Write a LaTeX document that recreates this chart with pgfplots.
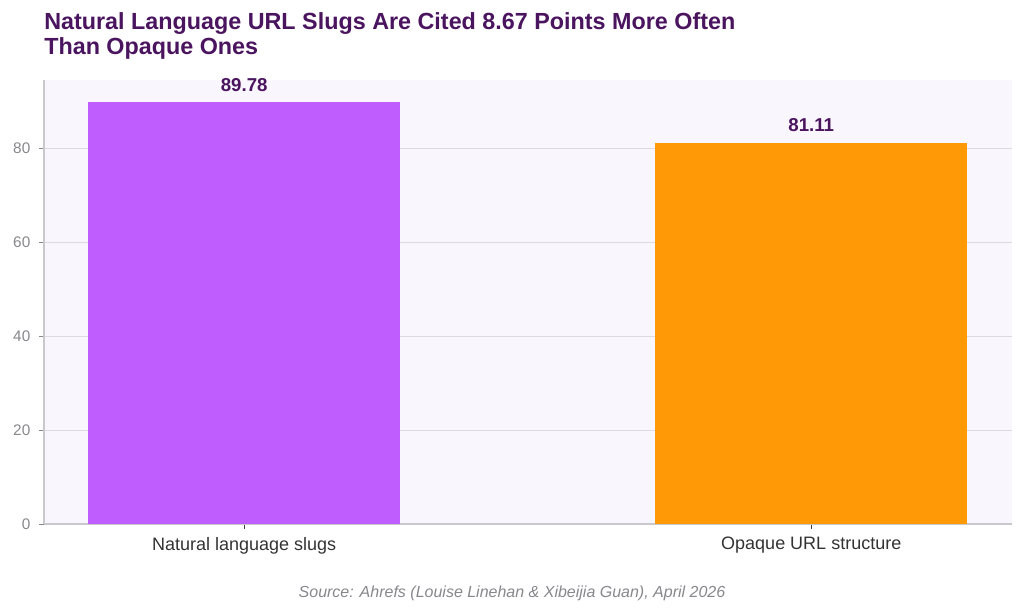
\documentclass[border=0pt]{standalone}
\usepackage{pgfplots}
\pgfplotsset{compat=1.18}
\usepackage{fontspec}
\setmainfont{Liberation Sans}
\definecolor{titlecol}{RGB}{74,20,95}
\definecolor{barA}{RGB}{192,93,255}
\definecolor{barB}{RGB}{255,153,5}
\definecolor{panel}{RGB}{249,246,253}
\definecolor{gridc}{RGB}{221,219,226}
\definecolor{spine}{RGB}{200,200,205}
\definecolor{ticktxt}{RGB}{135,135,140}
\begin{document}
\begin{tikzpicture}
% full canvas, 1024 x 614 px at 0.75pt per px
\path[use as bounding box] (0,0) rectangle (768pt,460.5pt);
\begin{axis}[
  at={(33pt,67.5pt)}, anchor=south west,
  scale only axis, width=726pt, height=333pt,
  xmin=-0.353, xmax=1.354, ymin=0, ymax=94.47,
  axis background/.style={fill=panel},
  axis x line*=bottom, axis y line*=left,
  axis line style={spine, line width=0.8pt},
  xtick={0,1}, xticklabels={Natural language slugs, Opaque URL structure},
  ytick={0,20,40,60,80},
  ymajorgrids, grid style={gridc, line width=0.7pt},
  tick align=outside, major tick length=3.75pt,
  xtick style={black!75, line width=0.6pt}, ytick style={ticktxt, line width=0.6pt},
  yticklabel style={font=\fontsize{11.5}{13}\selectfont, text=ticktxt, xshift=-3pt},
  xticklabel style={font=\fontsize{13.5}{15}\selectfont, text=black!80, yshift=-2.5pt},
  /pgf/number format/assume math mode=true,
  ybar, bar width=234pt, bar shift=0pt,
  nodes near coords,
  nodes near coords style={font=\bfseries\fontsize{14}{16}\selectfont, text=titlecol, /pgf/number format/fixed, /pgf/number format/precision=2, /pgf/number format/fixed zerofill, yshift=4.5pt},
]
\addplot[fill=barA, draw=none] coordinates {(0,89.78)};
\addplot[fill=barB, draw=none] coordinates {(1,81.11)};
\end{axis}
\node[anchor=north west, align=left, text=titlecol, font=\bfseries\fontsize{17.5}{19}\selectfont, inner sep=0pt] at (33pt,451.5pt) {Natural Language URL Slugs Are Cited 8.67 Points More Often\\Than Opaque Ones};
\node[text=ticktxt, font=\itshape\fontsize{12}{14}\selectfont, inner sep=0pt] at (384pt,15.75pt) {Source: Ahrefs (Louise Linehan \& Xibeijia Guan), April 2026};
\end{tikzpicture}
\end{document}
